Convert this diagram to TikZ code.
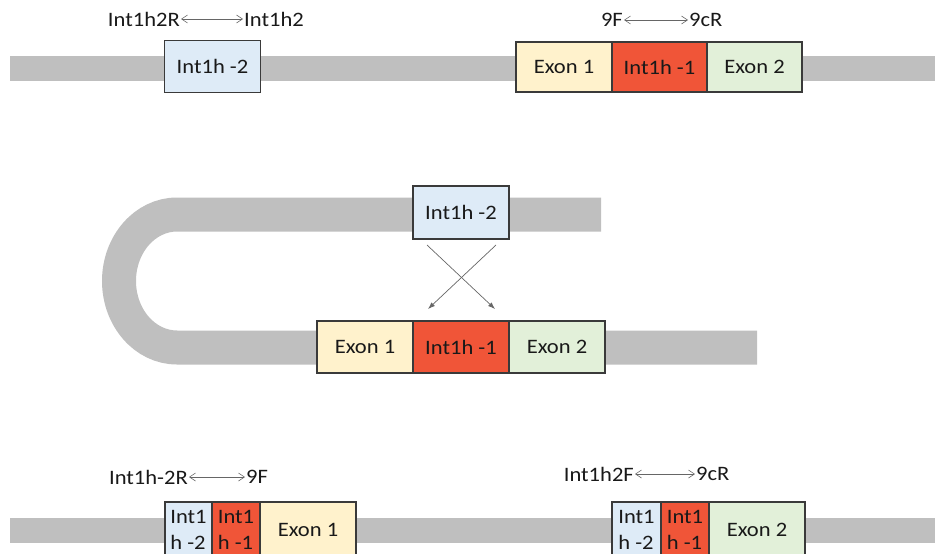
\documentclass[tikz,border=0pt]{standalone}
\usepackage{fontspec}
\setmainfont{Carlito}[FakeStretch=1.1]
\usetikzlibrary{arrows.meta}
\definecolor{band}{HTML}{BFBFBF}
\definecolor{iblue}{HTML}{DEEBF7}
\definecolor{eyel}{HTML}{FFF2CC}
\definecolor{ired}{HTML}{F05538}
\definecolor{egrn}{HTML}{E2F0D9}
\definecolor{edge}{HTML}{3A3A3A}
\tikzset{
  seg/.style={draw=edge, line width=1.1pt, inner sep=0pt, font=\fontsize{20.5}{26}\selectfont, text=black!90},
  lbl/.style={inner sep=1pt, font=\fontsize{20.5}{22}\selectfont, text=black!90},
  dbl/.style={draw=black!60, line width=0.6pt, {Straight Barb[length=6pt,width=8pt]}-{Straight Barb[length=6pt,width=8pt]}},
  cross/.style={draw=black!60, line width=0.7pt, -{Latex[length=7pt,width=5pt]}},
  bar/.style={draw=band, line width=25pt},
  ubar/.style={draw=band, line width=34pt}
}
\begin{document}
\begin{tikzpicture}[x=1pt,y=-1pt]
\useasboundingbox (0,0) rectangle (935,554);
\clip (0,0) rectangle (935,554);
% ---- top row
\draw[bar] (10,68.5) -- (935,68.5);
\node[seg, fill=iblue, minimum width=96pt, minimum height=52pt] (t2) at (212.5,66.5) {Int1h -2};
\node[seg, fill=eyel, minimum width=96pt, minimum height=50pt] (te1) at (564,67) {Exon 1};
\node[seg, fill=ired, minimum width=95pt, minimum height=50pt] (ti1) at (659.5,67) {Int1h -1};
\node[seg, fill=egrn, minimum width=95pt, minimum height=50pt] (te2) at (754.5,67) {Exon 2};
\node[lbl, anchor=east] (l1a) at (181,19) {Int1h2R};
\node[lbl, anchor=west] (l1b) at (243,19) {Int1h2};
\draw[dbl] (l1a.east) -- (l1b.west);
\node[lbl, anchor=east] (l2a) at (624,20) {9F};
\node[lbl, anchor=west] (l2b) at (688,20) {9cR};
\draw[dbl] (l2a.east) -- (l2b.west);
% ---- middle (looped)
\draw[ubar] (601,214.5) -- (177,214.5) arc[start angle=270, end angle=90, x radius=58, y radius=66.5] -- (757,347.5);
\node[seg, fill=iblue, minimum width=96pt, minimum height=53pt] (m2) at (461,212.5) {Int1h -2};
\node[seg, fill=eyel, minimum width=96pt, minimum height=52pt] (me1) at (365,347) {Exon 1};
\node[seg, fill=ired, minimum width=96pt, minimum height=52pt] (mi1) at (461,347) {Int1h -1};
\node[seg, fill=egrn, minimum width=96pt, minimum height=52pt] (me2) at (557,347) {Exon 2};
\coordinate (cTL) at (427,245);
\coordinate (cTR) at (496,245);
\coordinate (cBL) at (428,309);
\coordinate (cBR) at (495,309);
\draw[cross] (cTR) -- (cBL);
\draw[cross] (cTL) -- (cBR);
% ---- bottom row
\draw[bar] (10,530) -- (935,530);
\node[seg, fill=iblue, minimum width=47pt, minimum height=56pt, align=left] (b12) at (188.5,530) {Int1\\h -2};
\node[seg, fill=ired, minimum width=48pt, minimum height=56pt, align=left] (b11) at (236,530) {Int1\\h -1};
\node[seg, fill=eyel, minimum width=96pt, minimum height=56pt] (b1e) at (308,530) {Exon 1};
\node[seg, fill=iblue, minimum width=49pt, minimum height=56pt, align=left] (b22) at (636.5,530) {Int1\\h -2};
\node[seg, fill=ired, minimum width=48pt, minimum height=56pt, align=left] (b21) at (685,530) {Int1\\h -1};
\node[seg, fill=egrn, minimum width=96pt, minimum height=56pt] (b2e) at (757,530) {Exon 2};
\node[lbl, anchor=east] (l3a) at (189,477) {Int1h-2R};
\node[lbl, anchor=west] (l3b) at (245,477) {9F};
\draw[dbl] (l3a.east) -- (l3b.west);
\node[lbl, anchor=east] (l4a) at (635,474) {Int1h2F};
\node[lbl, anchor=west] (l4b) at (695,474) {9cR};
\draw[dbl] (l4a.east) -- (l4b.west);
\end{tikzpicture}
\end{document}
